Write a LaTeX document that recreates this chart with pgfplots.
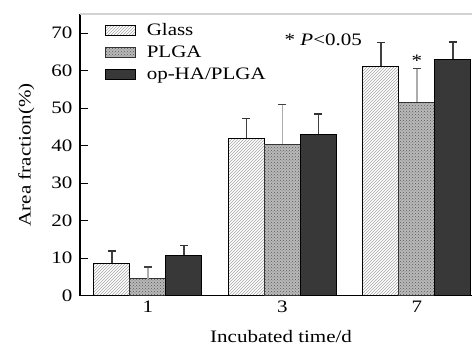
\documentclass[border=0pt]{standalone}
\usepackage{fontspec}
\setmainfont{Liberation Serif}[FakeStretch=1.2]
\usepackage{pgfplots}
\usepackage{pgfplotstable}
\pgfplotsset{compat=1.18}
\usetikzlibrary{patterns}
\pgfplotstableread{
x y e
0 8.6 3.3
1 42.0 5.3
2 61.2 6.3
}\glass
\pgfplotstableread{
x y e
0 4.5 3.1
1 40.4 10.6
2 51.6 9.0
}\plga
\pgfplotstableread{
x y e
0 10.8 2.6
1 43.1 5.4
2 63.1 4.6
}\ophapl
\newcommand{\fs}{\fontsize{17.5}{20}\selectfont}
\begin{document}
\begin{tikzpicture}
\path[use as bounding box] (-80pt,-51.3pt) rectangle (392pt,295.7pt);
\begin{axis}[
  at={(0,0)}, anchor=south west,
  scale only axis, width=392pt, height=281.7pt,
  xmin=-0.5056, xmax=2.409, ymin=0, ymax=75.1,
  axis x line=bottom, axis y line=left,
  axis line style={-, line width=1.2pt, black},
  ybar=0pt, bar width=36pt,
  xtick={0,1,2}, xticklabels={1,3,7},
  ytick={0,10,...,70},
  tick align=inside,
  major tick length=8pt,
  x tick style={draw=none},
  y tick style={line width=1pt, black},
  /pgf/number format/assume math mode=true,
  tick label style={font=\fs},
  ylabel={Area fraction(\%)},
  xlabel={Incubated time/d},
  label style={font=\fs},
  ylabel style={at={(axis description cs:0,0.5)}, anchor=south, yshift=42pt},
  xlabel style={at={(axis description cs:0.513,0)}, anchor=north, yshift=-31pt},
  yticklabel style={xshift=-4pt},
  xticklabel style={yshift=-2pt},
  legend style={draw=none, fill=none, font=\fs, at={(axis description cs:0.055,0.99)}, anchor=north west,
    nodes={inner sep=1pt, text height=15pt, text depth=5pt}, column sep=10pt},
  legend cell align=left,
  legend image code/.code={\draw[#1] (0pt,-5pt) rectangle (30pt,5pt);},
  error bars/y dir=plus, error bars/y explicit,
  error bars/error mark=-,
  clip=false,
]
\draw[gray!35, line width=2pt] (rel axis cs:0,1) -- (rel axis cs:1,1);
\addplot[draw=black, line width=1pt, fill=white, postaction={pattern=north east lines, pattern color=gray!70},
  error bars/error bar style={line width=1.2pt, gray!50!black},
  error bars/error mark options={rotate=90, mark size=4pt, line width=1.5pt, gray!40!black}]
  table[x=x, y=y, y error=e] {\glass};
\addplot[draw=black!80, line width=1pt, fill=gray!55, postaction={pattern=crosshatch dots, pattern color=gray!70!black},
  error bars/error bar style={line width=1.2pt, gray!65},
  error bars/error mark options={rotate=90, mark size=4pt, line width=1.5pt, gray!50!black}]
  table[x=x, y=y, y error=e] {\plga};
\addplot[draw=black, line width=1pt, fill=black!78,
  error bars/error bar style={line width=1.2pt, gray!50!black},
  error bars/error mark options={rotate=90, mark size=4pt, line width=1.5pt, gray!40!black}]
  table[x=x, y=y, y error=e] {\ophapl};
\legend{Glass, PLGA, op-HA/PLGA}
\node[font=\fs, anchor=west] at (axis cs:0.99,68.3) {* \textit{P}<0.05};
\node[font=\fs] at (axis cs:2,62.6) {*};
\end{axis}
\end{tikzpicture}
\end{document}
